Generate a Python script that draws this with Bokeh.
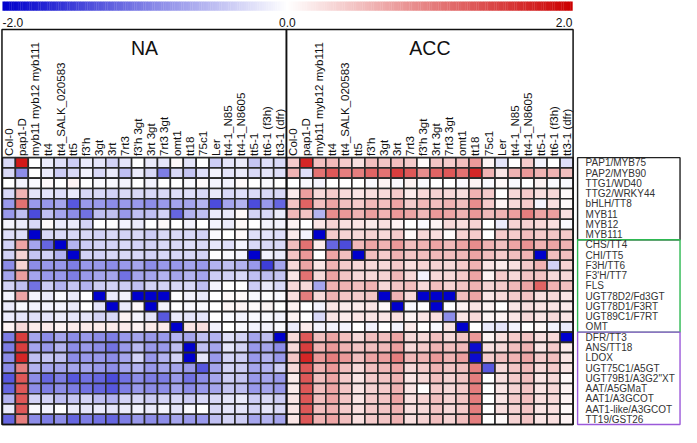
import math
from bokeh.plotting import figure
from bokeh.models import Range1d, ColumnDataSource, LinearColorMapper
from bokeh.transform import transform
from bokeh.embed import file_html
from bokeh.resources import INLINE
from bokeh.core.properties import value

# ---------------- data ----------------
genotypes = ["Col-0", "pap1-D", "myb11 myb12 myb111", "tt4", "tt4_SALK_020583", "tt5",
             "f3'h", "3gt", "3rt", "7rt3", "f3'h 3gt", "3rt 3gt", "7rt3 3gt", "omt1",
             "tt18", "75c1", "Ler", "tt4-1_N85", "tt4-1_N8605", "tt5-1", "tt6-1 (f3h)",
             "tt3-1 (dfr)"]
panels = ["NA", "ACC"]

regulator_genes = ["PAP1/MYB75", "PAP2/MYB90", "TTG1/WD40", "TTG2/WRKY44", "bHLH/TT8",
                   "MYB11", "MYB12", "MYB111"]
flavonol_genes = ["CHS/TT4", "CHI/TT5", "F3H/TT6", "F3'H/TT7", "FLS", "UGT78D2/Fd3GT",
                  "UGT78D1/F3RT", "UGT89C1/F7RT", "OMT"]
anthocyanin_genes = ["DFR/TT3", "ANS/TT18", "LDOX", "UGT75C1/A5GT", "UGT79B1/A3G2\"XT",
                     "AAT/A5GMaT", "AAT1/A3GCOT", "AAT1-like/A3GCOT", "TT19/GST26"]
group_colors = ["#222222", "#2eb852", "#9b59d9"]

scale_ticks = [-2.0, 0.0, 2.0]

na_regulators = [
    [-0.3, 1.8, 0.0, -0.15, -0.25, -0.4, -0.15, -0.2, -0.35, -0.2, 0.0, -0.15, -0.2, 0.05, -0.2, 0.0, -0.4, -0.2, -0.15, -0.45, -0.25, -0.3],
    [-0.3, -0.9, 0.0, -0.15, -0.4, -0.3, -0.1, -0.3, -0.15, -0.5, -0.15, -0.3, -1.0, -0.3, -0.45, -0.25, -0.1, -0.2, -0.15, -0.3, -0.2, -0.25],
    [0.0, -0.1, -0.05, 0.05, 0.0, 0.1, 0.0, -0.05, -0.05, -0.1, 0.0, -0.1, 0.0, 0.0, -0.05, 0.05, -0.1, -0.1, 0.05, 0.0, -0.05, 0.0],
    [-0.3, 0.6, -0.2, -0.2, -0.25, -0.15, -0.3, -0.3, -0.35, -0.3, -0.3, -0.3, -0.3, -0.25, -0.25, -0.3, -0.15, -0.3, -0.25, -0.3, -0.3, -0.3],
    [-0.8, 1.1, -0.8, -0.8, -0.7, -1.3, -0.8, -0.8, -0.9, -0.8, -0.8, -0.9, -0.8, -0.7, -0.7, -0.6, -1.4, -0.7, -0.6, -1.4, -0.8, -1.2],
    [-0.8, -0.5, -1.4, -0.5, -0.7, -0.9, -1.1, -0.5, -0.5, -0.8, -0.5, -0.5, -0.35, -1.2, -0.6, -0.5, -0.15, -0.15, 0.05, -0.35, -0.3, -0.15],
    [-0.1, -0.15, -0.3, 0.05, -0.15, -0.15, -0.35, 0.0, 0.0, -0.1, -0.15, 0.0, 0.05, 0.0, -0.1, 0.0, -0.1, -0.15, 0.05, 0.0, -0.1, -0.1],
    [-0.25, -0.25, -2.0, -0.3, -0.3, -0.3, -0.3, -0.35, -0.3, -0.35, -0.3, -0.4, -0.3, -0.3, -0.3, -0.35, -0.05, 0.0, 0.05, -0.25, -0.2, -0.25],
]
na_flavonol = [
    [-0.35, 0.7, -0.7, -1.2, -2.0, -0.6, -0.4, -0.35, -0.35, -0.3, -0.35, -0.35, -0.3, -0.3, -0.25, -0.3, -0.2, -0.25, -0.1, -0.3, -0.3, -0.3],
    [-0.35, 0.35, -0.45, -0.35, -0.6, -2.0, -0.35, -0.35, -0.3, -0.3, -0.3, -0.35, -0.3, -0.3, -0.3, -0.35, 0.0, -0.05, -0.1, -2.0, -0.1, -0.15],
    [-0.9, 0.35, -0.9, -0.8, -0.8, -1.0, -0.8, -0.8, -0.9, -0.8, -0.7, -0.9, -0.8, -0.8, -0.7, -0.8, -0.6, -0.5, -0.6, -0.8, -1.5, -0.7],
    [-0.7, 0.75, -0.7, -0.8, -0.8, -1.0, -0.8, -0.7, -0.7, -1.1, -0.7, -0.7, -0.6, -0.7, -0.6, -0.7, -0.4, -0.35, -0.3, -0.5, -0.5, -0.45],
    [-0.35, -0.5, -1.1, -0.4, -0.6, -0.45, -0.6, -0.4, -0.35, -0.4, -0.5, -0.35, -0.35, -0.3, -0.3, -0.5, -0.1, 0.0, 0.0, -0.4, -0.15, -0.3],
    [-0.1, 0.7, -0.1, -0.15, -0.05, -0.15, 0.0, -2.0, -0.15, -0.1, -2.0, -2.0, -2.0, 0.0, -0.1, -0.15, 0.0, 0.05, 0.05, -0.05, 0.0, -0.05],
    [-0.15, -0.05, -0.1, -0.1, -0.1, -0.15, 0.0, -0.2, -2.0, -0.15, 0.05, -2.0, -0.1, 0.0, -0.05, -0.05, 0.0, 0.08, 0.1, 0.05, 0.08, 0.0],
    [-0.15, -0.2, -0.25, -0.2, -0.15, -0.2, -0.2, -0.35, -0.3, 0.1, -0.1, -0.2, -1.3, -0.15, -0.2, -0.2, 0.0, -0.05, -0.1, -0.05, -0.05, -0.1],
    [0.1, 0.3, 0.15, 0.15, 0.1, 0.15, 0.15, 0.15, 0.15, 0.15, 0.1, 0.15, 0.15, -2.0, 0.2, 0.25, -0.1, 0.0, -0.05, -0.1, -0.1, -0.05],
]
na_anthocyanin = [
    [-1.0, 1.5, -0.7, -0.9, -0.7, -0.9, -0.8, -0.9, -1.0, -0.8, -0.7, -0.8, -0.8, -0.6, -0.7, -0.5, -0.6, -0.25, -0.35, -0.7, -0.5, -2.0],
    [-1.0, 1.5, -0.7, -0.8, -0.6, -0.9, -0.8, -0.9, -1.1, -0.8, -0.55, -0.8, -0.8, -0.5, -2.0, -0.5, -0.7, -0.2, -0.35, -0.8, -0.7, -0.9],
    [-0.9, 1.7, -0.5, -0.45, -0.5, -0.9, -0.8, -0.8, -0.9, -0.7, -0.35, -0.8, -0.6, -0.35, -2.0, -0.2, -0.8, -0.35, -0.4, -0.8, -0.6, -0.8],
    [-0.9, 1.0, -0.6, -0.7, -0.7, -0.7, -0.7, -0.8, -0.9, -0.7, -0.6, -0.8, -0.7, -0.7, -0.8, -1.3, -0.7, -0.35, -0.4, -0.7, -0.6, -0.4],
    [-1.3, 1.3, -0.9, -1.2, -1.0, -1.3, -1.1, -1.2, -1.4, -1.1, -0.9, -1.0, -1.0, -0.8, -1.1, -0.9, -0.7, -0.4, -0.45, -0.8, -0.7, -0.8],
    [-1.2, 1.3, -0.9, -1.0, -0.9, -1.0, -1.1, -1.2, -1.3, -1.0, -0.8, -0.9, -0.9, -0.7, -0.9, -0.8, -0.7, -0.45, -0.5, -0.8, -0.7, -0.8],
    [-0.6, 1.3, -0.35, -0.35, -0.5, -0.45, -0.35, -0.5, -0.6, -0.35, -0.3, -0.4, -0.35, -0.3, -0.4, -0.3, -0.3, -0.2, -0.15, -0.4, -0.3, -0.4],
    [-0.15, 1.3, -0.05, -0.1, 0.0, -0.15, -0.2, -0.15, -0.2, -0.15, -0.1, -0.15, -0.1, -0.2, -0.05, 0.0, -0.3, -0.2, -0.2, -0.35, -0.2, -0.3],
    [-1.2, 1.0, -0.9, -1.0, -0.9, -1.2, -1.0, -1.1, -1.2, -1.0, -0.8, -0.9, -0.9, -0.7, -0.8, -0.8, -0.5, -0.35, -0.4, -0.7, -0.6, -0.7],
]

acc_regulators = [
    [0.4, 1.7, 0.5, 0.55, 0.4, 0.25, 0.5, 0.45, 0.5, 0.4, 0.05, 0.45, 0.4, 0.5, 0.8, 0.1, -0.2, 0.0, 0.4, -0.1, 0.0, -0.25],
    [0.6, -0.25, 1.1, 1.3, 1.0, 1.0, 1.2, 1.1, 1.5, 1.3, 0.9, 1.2, 1.3, 1.1, 1.7, 0.6, 0.2, 0.6, 0.8, 0.6, 0.6, 0.5],
    [0.0, -0.05, -0.1, 0.0, 0.0, 0.0, -0.05, 0.1, -0.05, 0.1, -0.05, 0.0, 0.0, -0.05, 0.1, -0.05, 0.05, -0.05, 0.0, 0.1, -0.05, -0.05],
    [0.15, 0.75, 0.3, 0.4, 0.3, 0.2, 0.25, 0.3, 0.4, 0.15, 0.3, 0.35, 0.3, 0.25, 0.6, 0.4, 0.0, 0.3, 0.4, 0.25, 0.3, 0.05],
    [0.45, 1.2, 0.5, 0.7, 0.5, 0.4, 0.55, 0.5, 0.7, 0.4, 0.55, 0.5, 0.6, 0.5, 0.9, 0.4, 0.1, 0.3, 0.4, -0.1, 0.25, 0.05],
    [0.55, 0.45, -0.6, 0.9, 0.8, 0.6, 0.75, 0.6, 0.8, 0.7, 0.55, 0.8, 0.7, 0.6, 0.8, 0.55, 0.6, 0.75, 1.0, 0.7, 0.75, 0.25],
    [0.1, 0.0, 0.2, 0.35, 0.25, 0.2, 0.15, 0.25, 0.1, 0.0, -0.05, 0.1, 0.3, 0.25, 0.35, 0.0, -0.15, 0.35, 0.35, 0.3, 0.25, -0.05],
    [0.15, -0.1, -2.0, 0.4, 0.35, 0.3, 0.35, 0.3, 0.4, 0.05, 0.3, 0.25, 0.05, 0.35, 0.4, 0.0, 0.4, 0.4, 0.5, 0.4, 0.45, 0.4],
]
acc_flavonol = [
    [0.5, 1.1, 0.15, -1.2, -1.4, 0.55, 0.7, 0.6, 0.8, 0.5, 0.6, 0.7, 0.55, 0.7, 0.9, 0.6, 0.5, 0.7, 0.85, 0.6, 0.7, 0.6],
    [0.45, 0.8, 0.0, 0.7, 0.5, -2.0, 0.5, 0.4, 0.6, 0.45, 0.5, 0.55, 0.5, 0.55, 0.7, 0.5, 0.4, 0.5, 0.6, -2.0, 0.5, 0.5],
    [0.3, 0.7, 0.2, 0.6, 0.4, 0.3, 0.3, 0.3, 0.4, 0.25, 0.35, 0.35, 0.3, 0.4, 0.6, 0.2, 0.15, 0.25, 0.4, 0.6, -0.35, 0.35],
    [0.2, 1.1, 0.3, 0.7, 0.45, 0.3, 0.3, 0.35, 0.55, 0.3, -0.1, 0.3, 0.3, 0.4, 0.7, 0.1, 0.4, 0.3, 0.45, 0.45, 0.3, 0.3],
    [0.3, 0.3, -0.7, 0.6, 0.6, 0.5, 0.6, 0.3, 0.45, 0.5, 0.3, 0.5, 0.35, 0.45, 0.6, 0.35, 0.4, 0.55, 0.7, 1.2, 0.6, 0.5],
    [0.25, 1.0, 0.3, 0.6, 0.45, 0.4, 0.45, -2.0, 0.6, 0.3, -2.0, -2.0, -2.0, 0.5, 0.7, 0.2, 0.3, 0.4, 0.45, 0.25, 0.3, 0.2],
    [0.1, 0.0, -0.1, 0.2, 0.15, 0.15, 0.2, 0.05, -2.0, -0.05, 0.0, -2.0, 0.0, 0.1, 0.2, 0.1, 0.0, 0.2, 0.25, 0.2, 0.2, 0.15],
    [0.1, 0.0, -0.3, 0.2, 0.15, 0.2, 0.2, 0.2, 0.25, 0.1, 0.2, 0.25, -0.9, 0.2, 0.3, 0.1, 0.1, 0.2, 0.3, 0.2, 0.3, 0.2],
    [-0.15, 0.15, -0.1, -0.1, -0.1, 0.0, -0.1, 0.0, -0.1, 0.15, 0.0, -0.05, 0.2, -2.0, 0.0, -0.15, -0.2, -0.1, 0.0, 0.05, -0.1, -0.15],
]
acc_anthocyanin = [
    [0.3, 1.3, 0.5, 0.7, 0.5, 0.3, 0.5, 0.5, 0.7, 0.3, 0.3, 0.5, 0.3, 0.45, 0.8, 0.1, 0.25, 0.4, 0.45, 0.25, 0.3, -2.0],
    [0.3, 1.5, 0.6, 0.8, 0.6, 0.45, 0.5, 0.55, 0.75, 0.3, 0.4, 0.6, 0.5, 0.55, -1.9, 0.25, 0.3, 0.5, 0.6, 0.2, 0.4, 0.15],
    [0.45, 1.7, 0.8, 1.0, 0.8, 0.5, 0.7, 0.75, 1.0, 0.55, 0.6, 0.8, 0.6, 0.75, -1.9, 0.4, 0.5, 0.6, 0.7, 0.4, 0.5, 0.2],
    [0.3, 1.3, 0.6, 0.8, 0.5, 0.3, 0.5, 0.55, 0.7, 0.3, 0.4, 0.6, 0.45, 0.5, 1.0, -1.3, 0.3, 0.45, 0.55, 0.3, 0.4, 0.2],
    [0.15, 1.3, 0.5, 0.7, 0.4, 0.2, 0.4, 0.45, 0.6, 0.2, 0.3, 0.5, 0.35, 0.45, 1.0, 0.0, 0.25, 0.4, 0.5, 0.2, 0.3, 0.05],
    [0.15, 1.3, 0.5, 0.7, 0.45, 0.2, 0.35, 0.4, 0.6, 0.2, 0.0, 0.4, 0.3, 0.4, 1.0, 0.0, 0.2, 0.35, 0.45, 0.2, 0.3, 0.1],
    [0.2, 1.3, 0.5, 0.7, 0.45, 0.2, 0.4, 0.45, 0.7, 0.25, 0.35, 0.5, 0.35, 0.45, 1.0, 0.0, 0.2, 0.4, 0.5, 0.25, 0.3, 0.1],
    [0.2, 1.3, 0.5, 0.6, 0.4, 0.25, 0.4, 0.45, 0.6, 0.25, 0.3, 0.45, 0.3, 0.4, 1.0, 0.0, 0.25, 0.35, 0.45, 0.2, 0.25, 0.05],
    [0.2, 1.3, 0.6, 0.7, 0.5, 0.25, 0.4, 0.45, 0.6, 0.25, 0.35, 0.5, 0.35, 0.5, 1.0, 0.0, 0.05, 0.35, 0.45, 0.2, 0.25, 0.1],
]

# ---------------- palette ----------------
def _lerp(c1, c2, t):
    return tuple(int(round(a + (b - a) * t)) for a, b in zip(c1, c2))

BLUE, WHITE, RED = (0, 0, 204), (255, 255, 255), (204, 0, 0)
palette = []
N = 255
for i in range(N):
    t = i / (N - 1)
    c = _lerp(BLUE, WHITE, t * 2) if t <= 0.5 else _lerp(WHITE, RED, (t - 0.5) * 2)
    palette.append("#%02x%02x%02x" % c)
LOW, HIGH = scale_ticks[0], scale_ticks[-1]
mapper = LinearColorMapper(palette=palette, low=LOW, high=HIGH)

# ---------------- layout (in reference pixel units) ----------------
GRID_TOP, ROW_H = 163.3, 10.6
panel_x0 = [3.0, 293.6]
col_w = [13.2, 13.3]
FRAME_TOP = 31.0
genes = regulator_genes + flavonol_genes + anthocyanin_genes
n_rows = len(genes)
GRID_BOT = GRID_TOP + ROW_H * n_rows

FONT = value("Liberation Sans")
p = figure(width=681, height=427, x_range=Range1d(1.0, 697.0), y_range=Range1d(442.0, 1.0),
           output_backend="svg", toolbar_location=None, x_axis_type=None, y_axis_type=None,
           min_border=0, background_fill_color="white", border_fill_color="white")
p.outline_line_color = None
p.grid.visible = False

# colour scale bar
CB_X0, CB_X1, CB_Y0, CB_Y1 = 3.0, 585.5, 2.0, 11.5
nb = len(palette)
bw = (CB_X1 - CB_X0) / nb
p.quad(left=[CB_X0 + i * bw for i in range(nb)], right=[CB_X0 + (i + 1) * bw + 0.3 for i in range(nb)],
       top=[CB_Y0] * nb, bottom=[CB_Y1] * nb, fill_color=palette, line_color=None)
tick_x = [CB_X0 + (v - LOW) / (HIGH - LOW) * (CB_X1 - CB_X0) for v in scale_ticks]
tick_align = ["left", "center", "right"]
for tx, tv, ta in zip(tick_x, scale_ticks, tick_align):
    p.text(x=[tx], y=[23.5], text=["%.1f" % tv], text_align=ta, text_baseline="alphabetic",
           text_font=FONT, text_font_size="12px", text_color="#111111")

# heatmap cells
data_sets = [na_regulators + na_flavonol + na_anthocyanin,
             acc_regulators + acc_flavonol + acc_anthocyanin]
xs, ys, ws, vals = [], [], [], []
for pi_, rows in enumerate(data_sets):
    for r, row in enumerate(rows):
        for c, v in enumerate(row):
            xs.append(panel_x0[pi_] + col_w[pi_] * (c + 0.5))
            ys.append(GRID_TOP + ROW_H * (r + 0.5))
            ws.append(col_w[pi_])
            vals.append(v)
src = ColumnDataSource(dict(x=xs, y=ys, w=ws, v=vals))
p.rect(x="x", y="y", width="w", height=ROW_H, source=src,
       fill_color=transform("v", mapper), line_color="#2a2a2a", line_width=1.6)

# panel frames, titles and column labels
for pi_, name in enumerate(panels):
    x0 = panel_x0[pi_]
    x1 = x0 + col_w[pi_] * len(genotypes)
    p.quad(left=[x0 - 0.5], right=[x1], top=[FRAME_TOP], bottom=[GRID_BOT],
           fill_color=None, line_color="#111111", line_width=1.5)
    p.text(x=[(x0 + x1) / 2], y=[50.0], text=[name], text_align="center",
           text_baseline="alphabetic", text_font=FONT,
           text_font_size="19.5px", text_color="#111111")
    cx = [x0 + col_w[pi_] * (c + 0.5) for c in range(len(genotypes))]
    p.text(x=cx, y=[161.5] * len(genotypes), text=genotypes, angle=math.pi / 2,
           text_align="left", text_baseline="middle", text_font=FONT,
           text_font_size="11.5px", text_color="#111111")

# gene labels with group boxes
LBL_X0, LBL_X1 = 590.8, 695.5
start = 0
for grp, col in zip([regulator_genes, flavonol_genes, anthocyanin_genes], group_colors):
    top = GRID_TOP + ROW_H * start
    bot = GRID_TOP + ROW_H * (start + len(grp))
    p.quad(left=[LBL_X0], right=[LBL_X1], top=[top], bottom=[bot], fill_color=None,
           line_color=col, line_width=1.4)
    p.text(x=[599.0] * len(grp), y=[GRID_TOP + ROW_H * (start + i + 0.5) for i in range(len(grp))],
           text=grp, text_align="left", text_baseline="middle",
           text_font=FONT, text_font_size="10px", text_color="#333333")
    start += len(grp)

open("out.html", "w").write(file_html(p, INLINE))
